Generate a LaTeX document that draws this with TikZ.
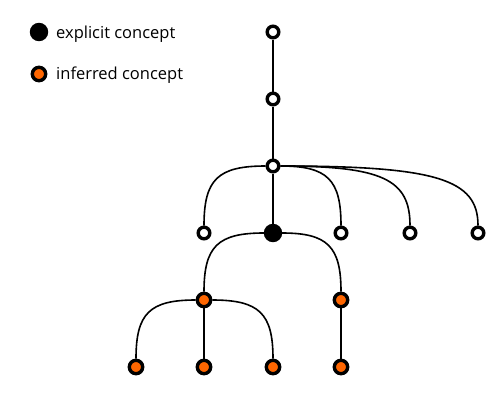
\documentclass[tikz,border=0pt]{standalone}
\usepackage{fontspec}
\setmainfont{Open Sans}
\usetikzlibrary{calc}
\definecolor{inferred}{RGB}{255,102,0}
\begin{document}
\begin{tikzpicture}[x=1pt,y=-1pt,
  nd/.style={circle,draw=black,line width=3.4pt,inner sep=0pt},
  plain/.style={nd,fill=white,minimum size=11.6pt},
  expl/.style={nd,fill=black,minimum size=15pt},
  infr/.style={nd,fill=inferred,minimum size=13.4pt},
  edge/.style={line width=1.6pt},
  lbl/.style={anchor=base west,inner sep=0pt,font=\fontsize{16.5}{20}\selectfont}]
\useasboundingbox (0,0) rectangle (500,400);
% legend
\node[expl] (le) at (39,32) {};
\node[lbl] (lt1) at (56,38.5) {explicit concept};
\node[infr] (li) at (39,74) {};
\node[lbl] (lt2) at (56,79) {inferred concept};
% tree nodes
\node[plain] (r0) at (273,32) {};
\node[plain] (r1) at (273,99) {};
\node[plain] (r2) at (273,166) {};
\node[plain] (a1) at (204,233) {};
\node[expl] (a2) at (273,233) {};
\node[plain] (a3) at (341,233) {};
\node[plain] (a4) at (410,233) {};
\node[plain] (a5) at (478,233) {};
\node[infr] (b1) at (204,300) {};
\node[infr] (b2) at (341,300) {};
\node[infr] (c1) at (136,367) {};
\node[infr] (c2) at (204,367) {};
\node[infr] (c3) at (273,367) {};
\node[infr] (c4) at (341,367) {};
% edges
\draw[edge] (r0) -- (r1);
\draw[edge] (r1) -- (r2);
\draw[edge] (r2) -- (a2);
\foreach \p/\c in {r2/a1,r2/a3,r2/a4,r2/a5,a2/b1,a2/b2,b1/c1,b1/c3}
  \draw[edge] (\p) .. controls ($(\p)!0.8!(\p -| \c)$) and ($(\c)!0.8!(\p -| \c)$) .. (\c);
\draw[edge] (b1) -- (c2);
\draw[edge] (b2) -- (c4);
\end{tikzpicture}
\end{document}
